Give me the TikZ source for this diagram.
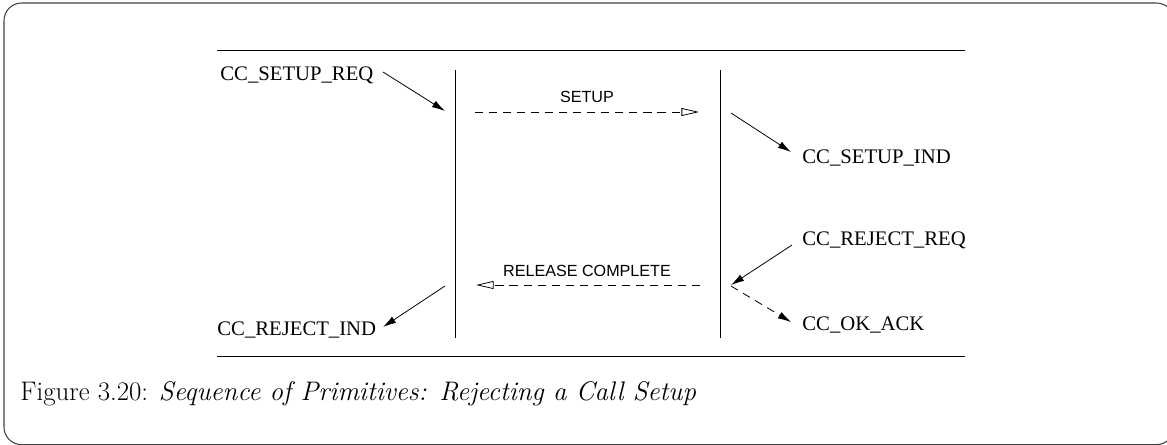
\documentclass[tikz,border=0pt]{standalone}
\usepackage{fontspec}
\setmainfont{Latin Modern Roman}
\newfontfamily\lblfont{Liberation Serif}
\newfontfamily\msgfont{Liberation Sans}
\usetikzlibrary{arrows.meta}
\begin{document}
\begin{tikzpicture}[x=0.57pt,y=-0.57pt,
  line width=0.45pt,
  prim/.style={font=\lblfont\fontsize{11.8}{13}\selectfont, inner sep=0pt, anchor=west},
  msg/.style={font=\msgfont\fontsize{9.2}{11}\selectfont, inner sep=0pt},
  solidarrow/.style={-{Latex[length=7.5pt,width=4.2pt]}},
  msgarrow/.style={dash pattern=on 4.6pt off 3.4pt, -{Triangle[open,length=10pt,width=4.5pt]}},
  dasharrow/.style={dash pattern=on 4.6pt off 3.4pt, -{Latex[length=7.5pt,width=4.2pt]}},
  frame/.style={draw=black!75, line width=0.6pt, rounded corners=10pt}]
\useasboundingbox (0,0) rectangle (1167,444);
\begin{scope}
\clip (0,0) rectangle (1167,444);
\draw[frame] (4,3) rectangle (1174,444.6);
\end{scope}
% rules
\coordinate (tl) at (217,50); \coordinate (tr) at (965,50);
\coordinate (bl) at (217,356); \coordinate (br) at (965,356);
\draw (tl) -- (tr);
\draw (bl) -- (br);
% lifelines
\coordinate (lt) at (455,70); \coordinate (lb) at (455,338);
\coordinate (rt) at (720,70); \coordinate (rb) at (720,338);
\draw (lt) -- (lb);
\draw (rt) -- (rb);
% labels
\node[prim] (setupreq) at (220,75) {CC\_SETUP\_REQ};
\node[prim] (setupind) at (802,158) {CC\_SETUP\_IND};
\node[prim] (rejectreq) at (802,240) {CC\_REJECT\_REQ};
\node[prim] (okack) at (802,325) {CC\_OK\_ACK};
\node[prim] (rejectind) at (217,330) {CC\_REJECT\_IND};
% arrow ends
\coordinate (a1s) at (383,72); \coordinate (a1e) at (445,111);
\coordinate (a2s) at (731,113); \coordinate (a2e) at (791,152);
\coordinate (a3s) at (792,245); \coordinate (a3e) at (731,285);
\coordinate (a4s) at (731,286); \coordinate (a4e) at (791,322);
\coordinate (a5s) at (445,286); \coordinate (a5e) at (383,327);
\coordinate (m1s) at (475,112); \coordinate (m1e) at (699,112);
\coordinate (m2s) at (700,285); \coordinate (m2e) at (476,285);
\draw[solidarrow] (a1s) -- (a1e);
\draw[solidarrow] (a2s) -- (a2e);
\draw[solidarrow] (a3s) -- (a3e);
\draw[dasharrow] (a4s) -- (a4e);
\draw[solidarrow] (a5s) -- (a5e);
\draw[msgarrow] (m1s) -- (m1e);
\draw[msgarrow] (m2s) -- (m2e);
\node[msg] (setup) at (587,97) {SETUP};
\node[msg] (relcomp) at (587,271) {RELEASE COMPLETE};
% caption
\node[anchor=base west, inner sep=0pt, font=\fontsize{15.3}{18}\selectfont] (caption) at (20,400) {Figure 3.20: \textit{Sequence of Primitives: Rejecting a Call Setup}};
\end{tikzpicture}
\end{document}
